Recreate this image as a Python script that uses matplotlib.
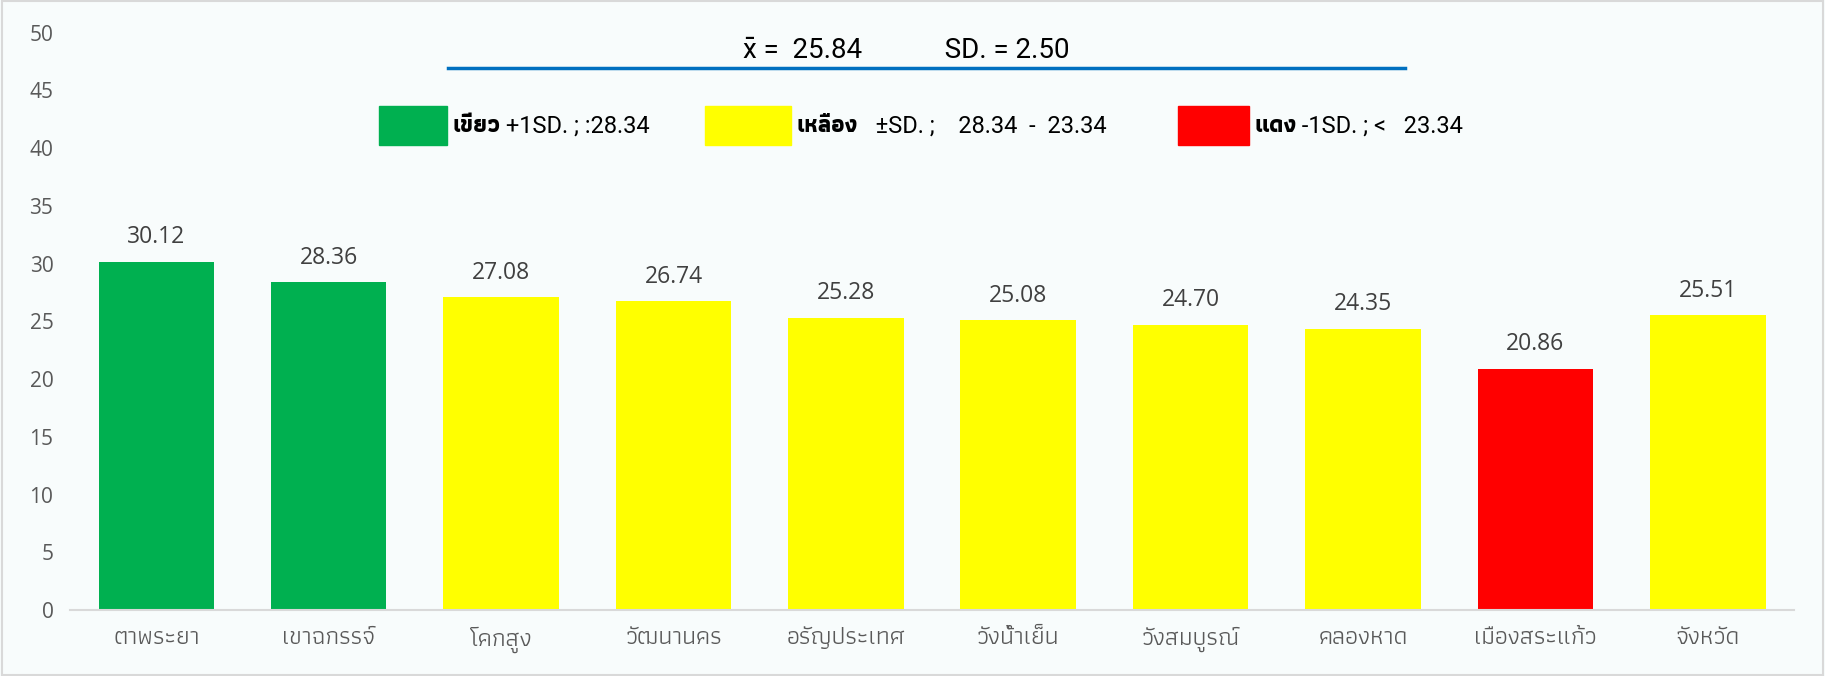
import matplotlib
matplotlib.use("Agg")
import matplotlib.pyplot as plt
from matplotlib import font_manager as fm
from matplotlib.ft2font import FT2Font
from matplotlib.patches import Rectangle
from matplotlib.lines import Line2D

categories = ["ตาพระยา", "เขาฉกรรจ์", "โคกสูง", "วัฒนานคร", "อรัญประเทศ",
              "วังน้ำเย็น", "วังสมบูรณ์", "คลองหาด", "เมืองสระแก้ว", "จังหวัด"]
values = [30.12, 28.36, 27.08, 26.74, 25.28, 25.08, 24.70, 24.35, 20.86, 25.51]
bar_colors = ["#00B050", "#00B050", "#FFFF00", "#FFFF00", "#FFFF00",
              "#FFFF00", "#FFFF00", "#FFFF00", "#FF0000", "#FFFF00"]
yticks = [0, 5, 10, 15, 20, 25, 30, 35, 40, 45, 50]
mean_text = "x̄ =  25.84            SD. = 2.50"
legend_items = [("#00B050", "เขียว", " +1SD. ; :28.34"),
                ("#FFFF00", "เหลือง", "   ±SD. ;    28.34  -  23.34"),
                ("#FF0000", "แดง", " -1SD. ; <   23.34")]

# find fonts with Thai glyphs, prefer a family that has a bold face
thai = {}
for f in fm.fontManager.ttflist:
    try:
        cm = FT2Font(f.fname).get_charmap()
        if 0x0E01 in cm:
            w = f.weight if isinstance(f.weight, int) else 400
            thai.setdefault(f.name, set()).add(w)
    except Exception:
        pass
pref = ["Noto Sans Thai", "Noto Sans Thai UI", "Noto Sans Thai Looped"]
cands = sorted(thai, key=lambda n: (0 if max(thai[n]) >= 600 else 1,
                                    pref.index(n) if n in pref else 9, n))
thai_name = cands[0] if cands else "DejaVu Sans"
fam = [thai_name, "DejaVu Sans"]
num_font = ["Open Sans", "DejaVu Sans"]
narrow = ["Liberation Sans Narrow", "Roboto", "DejaVu Sans"]

bg = "#F8FCFC"
fig = plt.figure(figsize=(18.25, 6.76), dpi=100, facecolor=bg)
ax = fig.add_axes([0.0384, 0.0976, 0.9446, 0.8542], facecolor=bg)
x = list(range(len(categories)))
ax.bar(x, values, width=0.67, color=bar_colors, zorder=2)
for xi, v in zip(x, values):
    ax.text(xi, v + 1.1, f"{v:.2f}", ha="center", va="bottom", fontsize=16.5,
            color="#404040", family=num_font)
ax.set_xlim(-0.5, 9.5)
ax.set_ylim(0, 50)
ax.set_yticks(yticks)
ax.set_yticklabels([str(t) for t in yticks], family=num_font, fontsize=15, color="#595959")
ax.set_xticks(x)
ax.set_xticklabels(categories, family=fam, fontsize=18, color="#595959")
ax.tick_params(axis="both", length=0)
ax.tick_params(axis="y", pad=12)
ax.tick_params(axis="x", pad=12)
for s in ["top", "right", "left"]:
    ax.spines[s].set_visible(False)
ax.spines["bottom"].set_color("#D9D9D9")
ax.spines["bottom"].set_linewidth(1.5)

fig.text(906 / 1825, 1 - 51 / 676, mean_text, ha="center", va="center",
         fontsize=20, family=narrow, color="black")
fig.add_artist(Line2D([448 / 1825, 1405 / 1825], [1 - 68 / 676, 1 - 68 / 676],
                      color="#0070C0", lw=2.5))

rects = [(379, 447), (705, 791), (1178, 1249)]
for (c, th, rest), (x0, x1) in zip(legend_items, rects):
    fig.add_artist(Rectangle((x0 / 1825, 1 - 145 / 676), (x1 - x0) / 1825, 39 / 676,
                             transform=fig.transFigure, color=c))
    t = fig.text((x1 + 5) / 1825, 1 - 126 / 676, th, ha="left", va="center",
                 fontsize=17, family=fam, weight="bold")
    fig.canvas.draw()
    bb = t.get_window_extent()
    fig.text(bb.x1 / 1825, 1 - 126 / 676, rest, ha="left", va="center",
             fontsize=17, family=narrow)

fig.add_artist(Rectangle((0.001, 0.001), 0.998, 0.998, transform=fig.transFigure,
                         fill=False, edgecolor="#D9D9D9", lw=1.5))
fig.savefig("out.png", dpi=100, facecolor=bg)
